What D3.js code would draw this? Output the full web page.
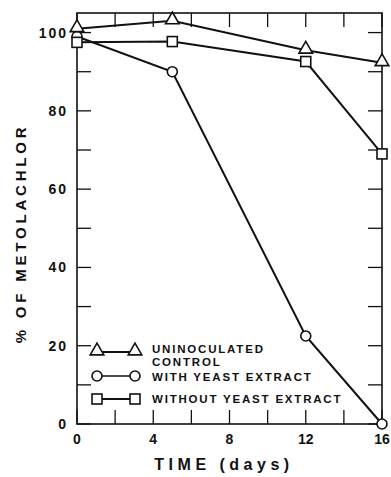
<!DOCTYPE html>
<html>
<head>
<meta charset="utf-8">
<script src="https://cdn.jsdelivr.net/npm/d3@7"></script>
<style>
  body { margin: 0; background: #fff; }
  svg text { font-family: "Liberation Sans", Arial, sans-serif; font-weight: bold; fill: #111; }
</style>
</head>
<body>
<svg id="chart"></svg>
<script>
// data
const days = [0, 5, 12, 16];
const uninoculated = [101, 103, 95.5, 92.3];
const withYeast = [99, 90, 22.5, 0];
const withoutYeast = [97.5, 97.7, 92.6, 69];
const xTickLabels = [0, 4, 8, 12, 16];
const yTickLabels = [0, 20, 40, 60, 80, 100];
const legendLabels = [["UNINOCULATED", "CONTROL"], ["WITH YEAST EXTRACT"], ["WITHOUT YEAST EXTRACT"]];

const width = 391, height = 477;
const margin = { top: 13, right: 9, bottom: 53, left: 77 };

const svg = d3.select("#chart").attr("width", width).attr("height", height);

const x = d3.scaleLinear().domain([0, 16]).range([margin.left, width - margin.right]);
const y = d3.scaleLinear().domain([0, 105]).range([height - margin.bottom, margin.top]);

const ink = "#111";

// frame
svg.append("rect")
    .attr("x", x(0)).attr("y", y(105))
    .attr("width", x(16) - x(0)).attr("height", y(0) - y(105))
    .attr("fill", "none").attr("stroke", ink).attr("stroke-width", 1.6);

// inward ticks on all four sides
const xt = d3.range(0, 17, 2);
const yt = d3.range(0, 101, 10);
const tlen = 14;
svg.append("g").selectAll("line").data(xt).enter().append("line")
    .attr("x1", d => x(d)).attr("x2", d => x(d))
    .attr("y1", y(0)).attr("y2", y(0) - tlen)
    .attr("stroke", ink).attr("stroke-width", 1.3);
svg.append("g").selectAll("line").data(xt).enter().append("line")
    .attr("x1", d => x(d)).attr("x2", d => x(d))
    .attr("y1", y(105)).attr("y2", y(105) + tlen)
    .attr("stroke", ink).attr("stroke-width", 1.3);
svg.append("g").selectAll("line").data(yt).enter().append("line")
    .attr("x1", x(0)).attr("x2", x(0) + tlen)
    .attr("y1", d => y(d)).attr("y2", d => y(d))
    .attr("stroke", ink).attr("stroke-width", 1.3);
svg.append("g").selectAll("line").data(yt).enter().append("line")
    .attr("x1", x(16)).attr("x2", x(16) - tlen)
    .attr("y1", d => y(d)).attr("y2", d => y(d))
    .attr("stroke", ink).attr("stroke-width", 1.3);

// tick labels
svg.append("g").selectAll("text").data(yTickLabels).enter().append("text")
    .attr("x", x(0) - 9).attr("y", d => y(d) + 5)
    .attr("text-anchor", "end")
    .attr("font-size", 14).attr("letter-spacing", 2)
    .text(d => d);
svg.append("g").selectAll("text").data(xTickLabels).enter().append("text")
    .attr("x", d => x(d)).attr("y", y(0) + 20)
    .attr("text-anchor", "middle")
    .attr("font-size", 14)
    .text(d => d);

// axis titles
svg.append("text")
    .attr("transform", `translate(26,${(y(0) + y(105)) / 2 + 15}) rotate(-90)`)
    .attr("text-anchor", "middle")
    .attr("font-size", 15).attr("letter-spacing", 3.8)
    .text("% OF METOLACHLOR");
svg.append("text")
    .attr("x", 224).attr("y", 470)
    .attr("text-anchor", "middle")
    .attr("font-size", 16).attr("letter-spacing", 4.5)
    .text("TIME (days)");

// markers
const triangle = d3.symbol().type(d3.symbolTriangle).size(80);
function drawMarker(g, type, cx, cy) {
    if (type === "triangle") {
        g.append("path").attr("d", triangle())
            .attr("transform", `translate(${cx},${cy - 1})`)
            .attr("fill", "#fff").attr("stroke", ink).attr("stroke-width", 1.6);
    } else if (type === "circle") {
        g.append("circle").attr("cx", cx).attr("cy", cy).attr("r", 5)
            .attr("fill", "#fff").attr("stroke", ink).attr("stroke-width", 1.6);
    } else {
        g.append("rect").attr("x", cx - 5).attr("y", cy - 5)
            .attr("width", 10).attr("height", 10)
            .attr("fill", "#fff").attr("stroke", ink).attr("stroke-width", 1.6);
    }
}

const series = [
    { values: withYeast, type: "circle" },
    { values: withoutYeast, type: "square" },
    { values: uninoculated, type: "triangle" }
];

const line = d3.line().x(d => x(d[0])).y(d => y(d[1]));

series.forEach(s => {
    const pts = days.map((d, i) => [d, s.values[i]]);
    svg.append("path").datum(pts)
        .attr("d", line)
        .attr("fill", "none").attr("stroke", ink).attr("stroke-width", 2);
});
series.forEach(s => {
    const g = svg.append("g");
    days.forEach((d, i) => drawMarker(g, s.type, x(d), y(s.values[i])));
});

// legend
const legendTypes = ["triangle", "circle", "square"];
const legendY = [352, 376, 399];
const legendBase = [[353, 366], [381], [403]];
legendTypes.forEach((t, i) => {
    const g = svg.append("g");
    g.append("line")
        .attr("x1", 97).attr("x2", 135)
        .attr("y1", legendY[i]).attr("y2", legendY[i])
        .attr("stroke", ink).attr("stroke-width", t === "circle" ? 1.3 : 2);
    drawMarker(g, t, 97, legendY[i]);
    drawMarker(g, t, 135, legendY[i]);
    legendLabels[i].forEach((txt, j) => {
        g.append("text")
            .attr("x", 152).attr("y", legendBase[i][j])
            .attr("font-size", 11.5).attr("letter-spacing", 1.8)
            .text(txt);
    });
});
</script>
</body>
</html>
